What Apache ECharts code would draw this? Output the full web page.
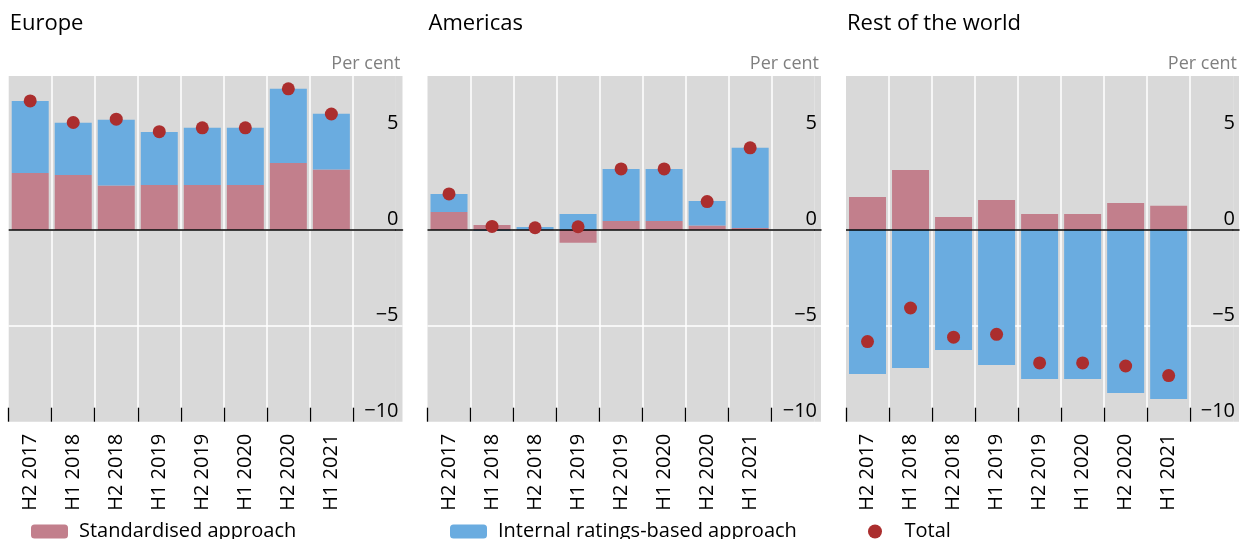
<!DOCTYPE html>
<html>
<head>
<meta charset="utf-8">
<script src="https://cdn.jsdelivr.net/npm/echarts@6/dist/echarts.min.js"></script>
<style>html,body{margin:0;padding:0;background:#fff}#c{width:1242px;height:539px}</style>
</head>
<body>
<div id="c"></div>
<script>
const categories = ['H2 2017','H1 2018','H2 2018','H1 2019','H2 2019','H1 2020','H2 2020','H1 2021',''];
const panelTitles = ['Europe','Americas','Rest of the world'];
const yTicks = [-10,-5,0,5];
const europeStd = [2.95,2.85,2.30,2.33,2.33,2.33,3.47,3.13];
const europeIrb = [3.75,2.71,3.42,2.76,2.97,2.97,3.86,2.90];
const europeTotal = [6.70,5.58,5.75,5.10,5.30,5.30,7.33,6.02];
const americasStd = [0.92,0.24,-0.03,-0.68,0.45,0.45,0.21,0.09];
const americasIrb = [0.94,-0.06,0.14,0.82,2.71,2.71,1.28,4.17];
const americasTotal = [1.86,0.17,0.10,0.15,3.16,3.16,1.46,4.26];
const rowStd = [1.70,3.11,0.66,1.55,0.82,0.82,1.39,1.24];
const rowIrb = [-7.52,-7.20,-6.27,-7.05,-7.78,-7.78,-8.51,-8.82];
const rowTotal = [-5.83,-4.08,-5.60,-5.45,-6.94,-6.94,-7.10,-7.60];

const panels = [
  {std: europeStd, irb: europeIrb, total: europeTotal},
  {std: americasStd, irb: americasIrb, total: americasTotal},
  {std: rowStd, irb: rowIrb, total: rowTotal}
];

const FONT = '"Open Sans", "Noto Sans", sans-serif';
const PINK = '#c27f8c', BLUE = '#6aace0', RED = '#ab2e2e', BG = '#d9d9d9';
const gridLefts = [8.7, 427.5, 846];
const gridRights = [402.5, 821, 1239];
const MAIN_W = 387.2;
const GTOP = 76, GH = 345.7;
const boundaryTicks = categories.map((c, k) => k); // slot edges 0..8, none at the far end

const chart = echarts.init(document.getElementById('c'), null, {renderer: 'canvas'});

const grids = [], xAxes = [], yAxes = [], series = [];
gridLefts.forEach((l, i) => {
  grids.push({left: l, top: GTOP, width: MAIN_W, height: GH, show: true,
    backgroundColor: BG, borderWidth: 0, containLabel: false, outerBoundsMode: 'none'});
  grids.push({left: l + MAIN_W, top: GTOP, width: gridRights[i] - l - MAIN_W, height: GH, show: true,
    backgroundColor: BG, borderWidth: 0, containLabel: false, outerBoundsMode: 'none'});
  // x axes: [3i] category (marks, labels, split lines), [3i+1] value (tick marks), [3i+2] strip (zero line)
  xAxes.push({
    type: 'category', gridIndex: 2 * i, position: 'bottom', data: categories, boundaryGap: true,
    axisLine: {show: false, onZero: false},
    axisTick: {show: false},
    splitLine: {show: true, interval: 0, showMinLine: false, showMaxLine: false,
      lineStyle: {color: '#fff', width: 1.5}},
    axisLabel: {interval: 0, rotate: 90, margin: 12, fontSize: 20, color: '#000', fontFamily: FONT}
  });
  xAxes.push({
    type: 'value', gridIndex: 2 * i, position: 'bottom', min: 0, max: categories.length,
    axisLine: {show: false, onZero: false},
    axisTick: {show: true, inside: true, length: 14, customValues: boundaryTicks,
      lineStyle: {color: '#000', width: 1.3}},
    axisLabel: {show: false}, splitLine: {show: false}
  });
  xAxes.push({
    type: 'value', gridIndex: 2 * i + 1, min: 0, max: 1,
    axisLine: {show: true, onZero: true, lineStyle: {color: '#000', width: 1.5}},
    axisTick: {show: false}, splitLine: {show: false}, axisLabel: {show: false}
  });
  yAxes.push({
    type: 'value', gridIndex: 2 * i, min: -10, max: 8, interval: 5,
    axisLine: {show: false, onZero: false}, axisTick: {show: false, customValues: yTicks},
    axisLabel: {show: false, customValues: yTicks},
    splitLine: {show: true, showMinLine: false, showMaxLine: false,
      lineStyle: {color: '#fff', width: 1.5}}
  });
  yAxes.push({
    type: 'value', gridIndex: 2 * i + 1, position: 'right', min: -10, max: 8, interval: 5,
    axisLine: {show: false, onZero: false}, axisTick: {show: false, customValues: yTicks},
    splitLine: {show: true, showMinLine: false, showMaxLine: false,
      lineStyle: {color: '#fff', width: 1.5}},
    axisLabel: {customValues: yTicks, inside: true, margin: 4, verticalAlign: 'bottom',
      fontSize: 20, color: '#000', fontFamily: FONT,
      formatter: v => String(v).replace('-', '\u2212')}
  });
});

panels.forEach((p, i) => {
  const xa = 3 * i, ya = 2 * i;
  series.push({
    name: 'Standardised approach', type: 'bar', xAxisIndex: xa, yAxisIndex: ya,
    stack: 's' + i, barWidth: 37, itemStyle: {color: PINK}, data: p.std
  });
  series.push({
    name: 'Internal ratings-based approach', type: 'bar', xAxisIndex: xa, yAxisIndex: ya,
    stack: 's' + i, barWidth: 37, itemStyle: {color: BLUE}, data: p.irb,
    markLine: {silent: true, symbol: ['none', 'none'], label: {show: false},
      lineStyle: {color: '#000', width: 1.5, type: 'solid'},
      emphasis: {disabled: true}, data: [{yAxis: 0}]}
  });
  series.push({
    name: 'Total', type: 'scatter', xAxisIndex: xa, yAxisIndex: ya, z: 5,
    symbol: 'circle', symbolSize: 13, itemStyle: {color: RED, opacity: 1}, data: p.total
  });
});

const option = {
  animation: false,
  textStyle: {fontFamily: FONT},
  title: panelTitles.map((t, i) => ({
    text: t, left: gridLefts[i] + 1, top: 13, padding: 0,
    textStyle: {fontFamily: FONT, fontSize: 22, fontWeight: 'normal', color: '#000'}
  })).concat(gridRights.map(r => ({
    text: 'Per cent', right: 1242 - r + 2, top: 55, padding: 0,
    textStyle: {fontFamily: FONT, fontSize: 18, fontWeight: 'normal', color: '#7f7f7f'}
  }))),
  legend: [
    {name: 'Standardised approach', left: 31},
    {name: 'Internal ratings-based approach', left: 450},
    {name: 'Total', left: 868}
  ].map(l => ({
    data: [l.name], left: l.left, top: 521.5, padding: 0,
    itemWidth: 37, itemHeight: 14,
    textStyle: {fontFamily: FONT, fontSize: 20, color: '#000', padding: [0,0,0,6]}
  })),
  grid: grids, xAxis: xAxes, yAxis: yAxes, series: series
};

chart.setOption(option);
</script>
</body>
</html>
